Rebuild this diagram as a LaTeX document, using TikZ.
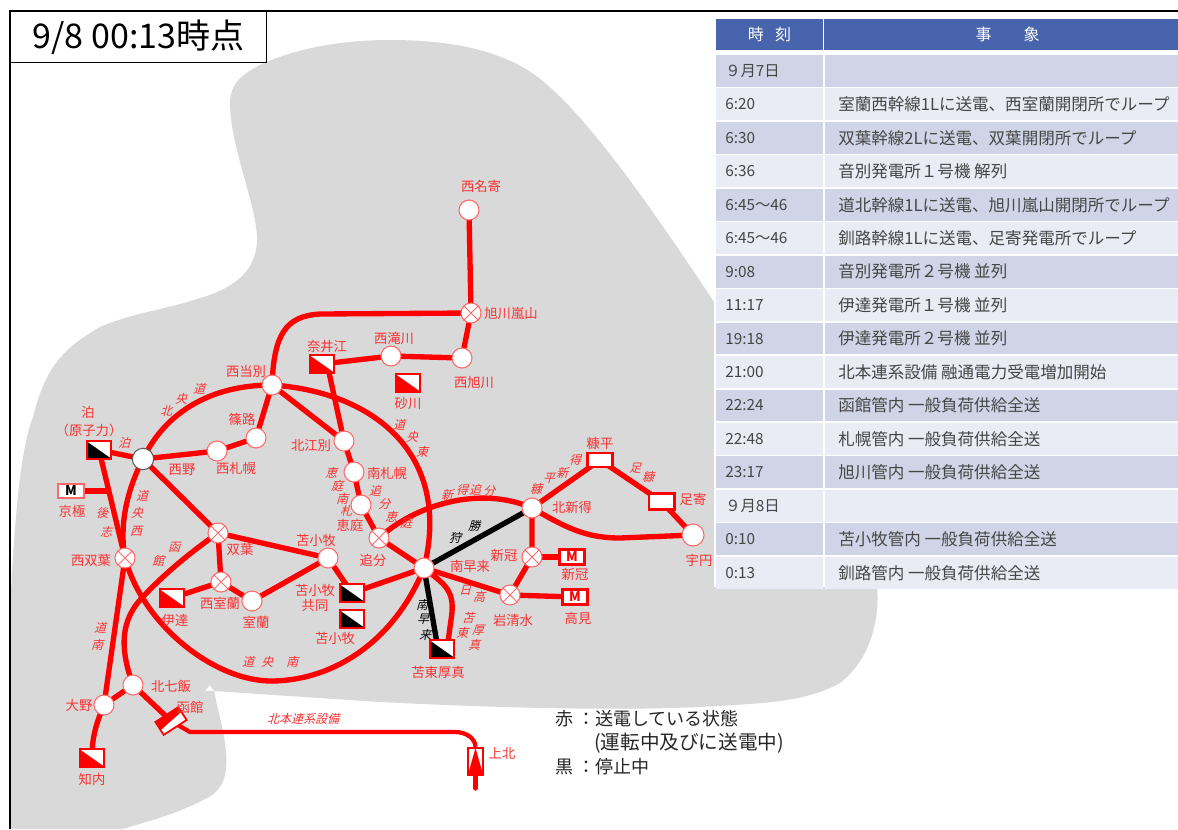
\documentclass[tikz,border=0pt]{standalone}
\usepackage{fontspec}
\setmainfont{Noto Sans CJK JP}
\newfontfamily\slfont[FakeSlant=0.28]{Noto Sans CJK JP}
\usetikzlibrary{calc}
\definecolor{lnred}{RGB}{255,0,0}
\definecolor{lbred}{RGB}{250,50,50}
\definecolor{rim}{RGB}{255,105,105}
\definecolor{land}{RGB}{217,217,217}
\definecolor{hdr}{RGB}{72,100,172}
\definecolor{rowa}{RGB}{207,213,230}
\definecolor{rowb}{RGB}{233,235,245}
\definecolor{txt}{RGB}{70,70,70}
\pgfdeclarelayer{bglayer}
\pgfdeclarelayer{edgelayer}
\pgfsetlayers{bglayer,edgelayer,main}
\newcounter{lbc}
\newcommand\lb[2]{\stepcounter{lbc}\node[lab] (lb\arabic{lbc}) at (#1) {#2};}
\newcommand\il[2]{\stepcounter{lbc}\node[ilab] (lb\arabic{lbc}) at (#1) {#2};}
\newcommand\ik[2]{\stepcounter{lbc}\node[ilab,text=black] (lb\arabic{lbc}) at (#1) {#2};}
\tikzset{
  lab/.style={text=lbred,font=\fontsize{10}{11.5}\selectfont,inner sep=0pt,align=center},
  ilab/.style={text=lbred,font=\fontsize{9}{10.5}\slfont,inner sep=0pt,align=center},
  stn/.style={circle,draw=rim,line width=.8pt,fill=white,minimum size=15pt,inner sep=0pt},
  swx/.style={stn,path picture={
    \draw[rim,line width=.7pt] (path picture bounding box.north west)--(path picture bounding box.south east)
      (path picture bounding box.north east)--(path picture bounding box.south west);}},
  hub/.style={stn,draw=black!65,minimum size=16pt},
  pwr/.style={rectangle,draw=#1,line width=1.5pt,fill=white,minimum width=18.5pt,minimum height=13pt,inner sep=0pt,
    path picture={\fill[#1] (path picture bounding box.north west)--(path picture bounding box.south west)--(path picture bounding box.south east)--cycle;}},
  plain/.style={rectangle,draw=lnred,line width=2pt,fill=white,minimum width=19pt,minimum height=10.5pt,inner sep=0pt},
  mbox/.style={rectangle,draw=lnred,line width=2pt,fill=white,text=lnred,font=\bfseries\fontsize{10}{10}\selectfont,minimum width=19pt,minimum height=11.5pt,inner sep=0pt},
  wire/.style={draw=lnred,line width=4pt,line join=round},
  kwire/.style={draw=black,line width=4pt},
  cellh/.style={fill=hdr,text=white,font=\fontsize{12}{13}\selectfont,inner sep=0pt,minimum height=23.5pt},
  celltxt/.style={text=txt,font=\fontsize{#1}{13}\selectfont,anchor=west,inner sep=0pt},
  note/.style={text=black!85,font=\fontsize{13.5}{15}\selectfont,anchor=west,inner sep=0pt},
}
\begin{document}
\begin{tikzpicture}[x=0.75pt,y=-0.75pt]
\useasboundingbox (0,0) rectangle (1178,829);
\begin{pgfonlayer}{bglayer}
\fill[white] (0,0) rectangle (1178,829);
\fill[land] (230,107) .. controls (229,85) and (240,75) .. (262,64)
  .. controls (300,47) and (345,40) .. (390,40)
  .. controls (450,40) and (500,50) .. (535,75)
  .. controls (580,108) and (640,190) .. (714,302)
  -- (870,560) -- (877,587)
  .. controls (880,620) and (870,660) .. (840,683)
  .. controls (810,700) and (770,703) .. (733,705)
  .. controls (640,712) and (500,708) .. (380,702)
  -- (214,691) -- (210,685) -- (205,691)
  -- (214,691)
  .. controls (220,720) and (228,745) .. (226,768)
  .. controls (225,785) and (215,795) .. (205,799)
  .. controls (175,815) and (145,822) .. (123,829)
  -- (11,829) -- (11,590)
  .. controls (15,520) and (20,450) .. (33,417)
  .. controls (45,370) and (60,350) .. (100,327)
  .. controls (135,312) and (165,310) .. (200,298)
  .. controls (235,288) and (258,270) .. (257,237)
  .. controls (256,205) and (232,150) .. (230,107) -- cycle;
\end{pgfonlayer}
% frame
\node[draw=black,line width=1.2pt,fill=white,minimum width=192pt,minimum height=38.5pt,inner sep=0pt,font=\fontsize{25.5}{27}\selectfont] (title) at (138.5,37) {9/8 00:13時点};
\coordinate (fa) at (10,829); \coordinate (fb) at (10,11); \coordinate (fc) at (1178,11);
\draw[black,line width=1.5pt] (fa)--(fb)--(fc);
% stations
\node[stn] (nishinayoro) at (469,210) {};
\node[swx] (asahikawa) at (471,313) {};
\node[stn] (nishiasahi) at (462,358) {};
\node[stn] (nishitaki) at (391,356) {};
\node[pwr=lnred] (naie) at (322,364) {};
\coordinate (naies) at (328,368);
\node[pwr=lnred] (sunagawa) at (408,383) {};
\node[stn] (nishitobetsu) at (272,385) {};
\node[stn] (kitaebetsu) at (344,441) {};
\node[stn] (minamisap) at (354,472) {};
\node[stn] (eniwa) at (361,505) {};
\node[swx] (oiwake) at (379,538) {};
\node[stn] (minamihaya) at (424,568) {};
\node[pwr=black,draw=lnred] (tomari) at (99,450) {};
\node[mbox,text=black,line width=1.3pt,draw=rim,minimum height=11pt] (kyogoku) at (71,491) {M};
\coordinate (kyj) at (107,491);
\node[hub] (tjunc) at (143,459) {};
\node[stn] (nishisap) at (217,451) {};
\node[stn] (shinoro) at (256,438) {};
\node[swx] (futaba) at (218,533) {};
\node[swx] (nishifutaba) at (125,558) {};
\node[swx] (nishimuro) at (221,582) {};
\node[stn] (muroran) at (252,601) {};
\node[stn] (tomakomai) at (328,558) {};
\node[pwr=black,draw=lnred] (kyodo) at (352,593) {};
\node[pwr=black,draw=lnred] (tomapwr) at (352,619) {};
\node[pwr=lnred] (date) at (172,598) {};
\node[pwr=black,draw=lnred] (atsuma) at (442,649) {};
\node[stn] (kitashin) at (532,508) {};
\node[swx] (niikappu) at (532,557) {};
\node[swx] (iwashimizu) at (510,595) {};
\node[mbox] (mnii) at (572,557) {M};
\node[mbox] (mtaka) at (575,597) {M};
\node[plain] (nukabira) at (600,460) {};
\node[plain,minimum height=12pt] (ashoro) at (661.5,501.5) {};
\node[stn,minimum size=16.5pt] (uen) at (693,535) {};
\node[stn] (kitananae) at (133,685) {};
\node[stn] (ono) at (104,705) {};
\node[pwr=lnred] (shiriuchi) at (92,758) {};
\node[rectangle,draw=lnred,line width=1.3pt,fill=white,rotate=33,minimum width=20.5pt,minimum height=11.5pt,inner sep=0pt,
  path picture={\fill[lnred] (path picture bounding box.north west)--(path picture bounding box.south west)--(path picture bounding box.north east)--cycle;}] (hakodate) at (171,721) {};
\node[rectangle,draw=lnred,line width=1.5pt,fill=white,minimum width=11.5pt,minimum height=20.5pt,inner sep=0pt,
  path picture={\fill[lnred] (path picture bounding box.north)--(path picture bounding box.south west)--(path picture bounding box.south east)--cycle;}] (kamikita) at (475.5,761.5) {};
\coordinate (kamiend) at (475.5,788);
% wires
\begin{pgfonlayer}{edgelayer}
\draw[wire] (nishinayoro.center)--(asahikawa.center)--(nishiasahi.center)--(nishitaki.center)--(naie.center);
\draw[wire] (asahikawa.center)--(320,314) .. controls (285,316) and (274,335) .. (nishitobetsu.center);
\draw[wire] (naies)--(kitaebetsu.center)--(minamisap.center)--(eniwa.center)--(oiwake.center)--(minamihaya.center);
\draw[wire] (nishitobetsu.center)--(kitaebetsu.center);
\draw[wire] (nishitobetsu.center)--(shinoro.center)--(nishisap.center)--(tjunc.center);
\draw[wire] (nishitobetsu.center) .. controls (210,385) and (165,413) .. (tjunc.center);
\draw[wire] (nishitobetsu.center) .. controls (375,392) and (452,455) .. (minamihaya.center);
\draw[wire] (tjunc.center) .. controls (127,490) and (119,525) .. (nishifutaba.center);
\draw[wire] (tomari.center)--(tjunc.center);
\draw[wire] (tomari.center)--(nishifutaba.center);
\draw[wire] (kyogoku.center)--(kyj);
\draw[wire] (tjunc.center)--(futaba.center)--(nishimuro.center)--(muroran.center)--(tomakomai.center)--(futaba.center);
\draw[wire] (nishimuro.center)--(date.center);
\draw[wire] (tomakomai.center)--(kyodo.center)--(minamihaya.center);
\draw[wire] (nishifutaba.center)--(ono.center)--(kitananae.center)--(hakodate.center);
\draw[wire] (nishifutaba.center) .. controls (143,625) and (215,682) .. (273,681) .. controls (335,680) and (395,640) .. (minamihaya.center);
\draw[wire] (futaba.center) .. controls (185,556) and (158,580) .. (140,600) .. controls (118,625) and (122,655) .. (kitananae.center);
\draw[wire] (ono.center) .. controls (94,728) and (92,742) .. (shiriuchi.center);
\draw[wire,line width=3.2pt] (hakodate.center)--(190,732)--(455,732) .. controls (468,732) and (475.5,740) .. (kamikita.north);
\draw[wire,line cap=round] (kamikita.south)--(kamiend);
\draw[wire] (oiwake.center) .. controls (415,505) and (480,485) .. (kitashin.center);
\draw[wire] (kitashin.center) .. controls (565,527) and (585,538) .. (620,538)--(uen.center);
\draw[wire] (kitashin.center)--(nukabira.center)--(ashoro.center)--(uen.center);
\draw[wire] (kitashin.center)--(niikappu.center)--(iwashimizu.center)--(minamihaya.center);
\draw[wire] (niikappu.center)--(mnii.center);
\draw[wire] (iwashimizu.center)--(mtaka.center);
\draw[kwire] (minamihaya.center)--(kitashin.center);
\draw[kwire] (minamihaya.center)--(438,649);
\draw[wire] (minamihaya.center) .. controls (445,585) and (456,590) .. (451,620) -- (447,649);
\end{pgfonlayer}
% labels
\lb{481,186}{西名寄}\lb{511,313}{旭川嵐山}\lb{474,382}{西旭川}\lb{394,338}{西滝川}\lb{327,346}{奈井江}\lb{408,404}{砂川}
\lb{246,371}{西当別}\lb{242,419}{篠路}\lb{311,446}{北江別}\lb{387,473}{南札幌}\lb{350,525}{恵庭}\lb{373,560}{追分}\lb{470,566}{南早来}
\lb{182,470}{西野}\lb{236,468}{西札幌}\lb{240,549}{双葉}\lb{91,560}{西双葉}\lb{88,412}{泊}\lb{89,430}{（原子力）}\lb{72,511}{京極}
\lb{220,603}{西室蘭}\lb{256,622}{室蘭}\lb{175,620}{伊達}\lb{316,540}{苫小牧}\lb{315,598}{苫小牧\\共同}\lb{335,638}{苫小牧}\lb{438,672}{苫東厚真}
\lb{513,620}{岩清水}\lb{504,555}{新冠}\lb{575,574}{新冠}\lb{578,618}{高見}\lb{572,507}{北新得}\lb{600,443}{糠平}\lb{693,499}{足寄}\lb{699,560}{宇円}
\lb{171,686}{北七飯}\lb{190,707}{函館}\lb{79,705}{大野}\lb{92,779}{知内}\lb{502,753}{上北}
\il{166,411}{北}\il{181,399}{央}\il{199,389}{道}\il{124,443}{泊}\il{142,496}{道}\il{137,513}{央}\il{136,531}{西}
\il{102,513}{後}\il{106,532}{志}\il{174,547}{函}\il{158,561}{館}\il{100,628}{道}\il{97,645}{南}
\il{248,662}{道}\il{267,662}{央}\il{292,662}{南}\il{303,719}{北本連系設備}
\il{399,425}{道}\il{412,437}{央}\il{422,452}{東}
\il{331,473}{恵}\il{337,486}{庭}\il{342,498.5}{南}\il{346,511}{札}
\il{375,491}{追}\il{384,504}{分}\il{391,517}{恵}\il{406,523}{庭}
\il{447,495}{新}\il{462,490}{得}\il{475,490}{追}\il{489,491}{分}
\ik{474,526}{勝}\ik{455,538}{狩}\ik{422,605}{南}\ik{423,619}{早}\ik{425,635}{来}
\il{465,590}{日}\il{479,597}{高}\il{468,618}{苫}\il{462,633}{東}\il{478,630}{厚}\il{474,645}{真}
\il{549,478}{平}\il{536,489}{糠}\il{575,460}{得}\il{562,473}{新}\il{635,468}{足}\il{648,477}{糠}
% notes
\node[note] (n1) at (555,719) {赤\hspace{3pt}：送電している状態};
\node[note,font=\fontsize{14.7}{15}\selectfont] (n2) at (594,743) {(運転中及びに送電中)};
\node[note] (n3) at (555,767) {黒\hspace{3pt}：停止中};
% table
\fill[white] (714,14) rectangle (1178,587);
\node[cellh,minimum width=80pt] (h1) at (769.5,34.5) {時\hspace{.7em}刻};
\node[cellh,minimum width=265.5pt] (h2) at (1001,34.5) {\hspace{10pt}事\hspace{2em}象};
\foreach \i/\t/\e in {0/９月7日/{},1/6:20/室蘭西幹線1Lに送電、西室蘭開閉所でループ,2/6:30/双葉幹線2Lに送電、双葉開閉所でループ,3/6:36/音別発電所１号機 解列,4/6:45～46/道北幹線1Lに送電、旭川嵐山開閉所でループ,5/6:45～46/釧路幹線1Lに送電、足寄発電所でループ,6/9:08/音別発電所２号機 並列,7/11:17/伊達発電所１号機 並列,8/19:18/伊達発電所２号機 並列,9/21:00/北本連系設備 融通電力受電増加開始,10/22:24/函館管内 一般負荷供給全送,11/22:48/札幌管内 一般負荷供給全送,12/23:17/旭川管内 一般負荷供給全送,13/９月8日/{},14/0:10/苫小牧管内 一般負荷供給全送,15/0:13/釧路管内 一般負荷供給全送}{
  \pgfmathsetmacro{\yt}{55+33.45*\i}
  \pgfmathsetmacro{\yb}{\yt+31.8}
  \pgfmathsetmacro{\ym}{\yt+16}
  \ifodd\i\def\rc{rowb}\else\def\rc{rowa}\fi
  \fill[\rc] (716,\yt) rectangle (823,\yb);
  \fill[\rc] (825,\yt) rectangle (1178,\yb);
  \node[celltxt=11.5] (ta\i) at (725,\ym) {\t};
  \node[celltxt=12.4] (te\i) at (838,\ym) {\e};
}
\end{tikzpicture}
\end{document}
